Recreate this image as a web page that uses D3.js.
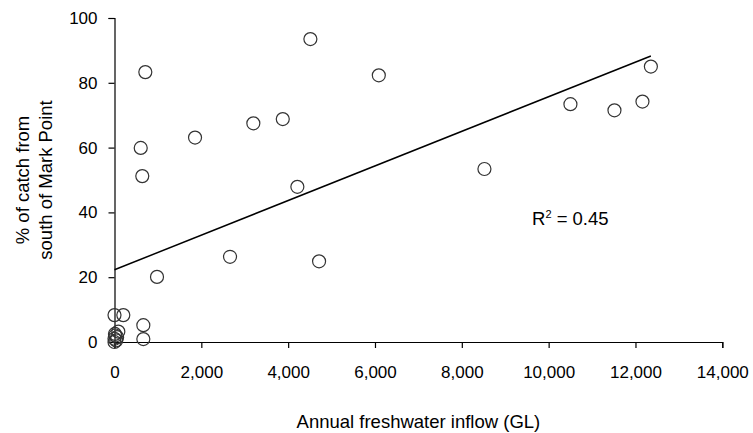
<!DOCTYPE html>
<html>
<head>
<meta charset="utf-8">
<script src="https://cdn.jsdelivr.net/npm/d3@7"></script>
<style>
  body { margin: 0; background: #fff; }
  svg { display: block; font-family: "Liberation Sans", Arial, sans-serif; }
</style>
</head>
<body>
<svg id="chart" width="753" height="433"></svg>
<script>
// Data
const inflowGL = [0, 0, 20, 40, 60, 10, 88, 0, 203, 664, 664, 604, 640, 710, 979, 1855, 2661, 3198, 3876, 4212, 4512, 4712, 6088, 8521, 10502, 11516, 12161, 12355];
const pctSouth = [0, 1, 2, 0.5, 1.5, 2.5, 3.2, 8.3, 8.3, 5.2, 0.9, 59.9, 51.2, 83.3, 20.1, 63.1, 26.3, 67.5, 68.8, 47.9, 93.5, 24.9, 82.3, 53.4, 73.4, 71.5, 74.2, 85.0];
const xTicks = [0, 2000, 4000, 6000, 8000, 10000, 12000, 14000];
const yTicks = [0, 20, 40, 60, 80, 100];
const trendIntercept = 22.3;
const trendSlope = 0.00534;
const rSquared = "0.45";
const xTitle = "Annual freshwater inflow (GL)";
const yTitleLines = ["% of catch from", "south of Mark Point"];

const svg = d3.select("#chart");
const x = d3.scaleLinear().domain([0, 14000]).range([114.5, 722.3]);
const y = d3.scaleLinear().domain([0, 100]).range([342, 18]);

const fmt = d3.format(",");
const tickFont = 17;
const titleFont = 18.5;

const xAxis = svg.append("g")
  .attr("transform", `translate(0,${y(0)})`)
  .call(d3.axisBottom(x).tickValues(xTicks).tickFormat(fmt).tickSize(6).tickPadding(18));
const yAxis = svg.append("g")
  .attr("transform", `translate(${x(0)},0)`)
  .call(d3.axisLeft(y).tickValues(yTicks).tickSize(6).tickPadding(11));

[xAxis, yAxis].forEach(g => {
  g.selectAll("path.domain").attr("stroke", "#000").attr("stroke-width", 1.2);
  g.selectAll(".tick line").attr("stroke", "#000").attr("stroke-width", 1.2);
  g.selectAll(".tick text").attr("font-size", tickFont).attr("fill", "#000")
    .attr("font-family", "'Liberation Sans', Arial, sans-serif");
});

// trend line
const xMax = d3.max(inflowGL);
svg.append("line")
  .attr("x1", x(0)).attr("y1", y(trendIntercept))
  .attr("x2", x(xMax)).attr("y2", y(trendIntercept + trendSlope * xMax))
  .attr("stroke", "#000").attr("stroke-width", 1.5);

// points
svg.append("g").selectAll("circle")
  .data(inflowGL.map((v, i) => [v, pctSouth[i]]))
  .join("circle")
  .attr("cx", d => x(d[0])).attr("cy", d => y(d[1]))
  .attr("r", 6.5)
  .attr("fill", "none")
  .attr("stroke", "#333").attr("stroke-width", 1.2);

// R^2 label
const rt = svg.append("text").attr("x", 532).attr("y", 225)
  .attr("font-size", titleFont).attr("fill", "#000");
rt.append("tspan").text("R");
rt.append("tspan").attr("font-size", 11).attr("dy", -7).text("2");
rt.append("tspan").attr("dy", 7).text(" = " + rSquared);

// axis titles
svg.append("text")
  .attr("x", (x.range()[0] + x.range()[1]) / 2).attr("y", 428)
  .attr("text-anchor", "middle").attr("font-size", titleFont).attr("fill", "#000")
  .text(xTitle);

const yt = svg.append("text")
  .attr("transform", `translate(29,${(y.range()[0] + y.range()[1]) / 2}) rotate(-90)`)
  .attr("text-anchor", "middle").attr("font-size", titleFont).attr("fill", "#000");
yTitleLines.forEach((t, i) => {
  yt.append("tspan").attr("x", 0).attr("dy", i === 0 ? 0 : 23).text(t);
});
</script>
</body>
</html>
